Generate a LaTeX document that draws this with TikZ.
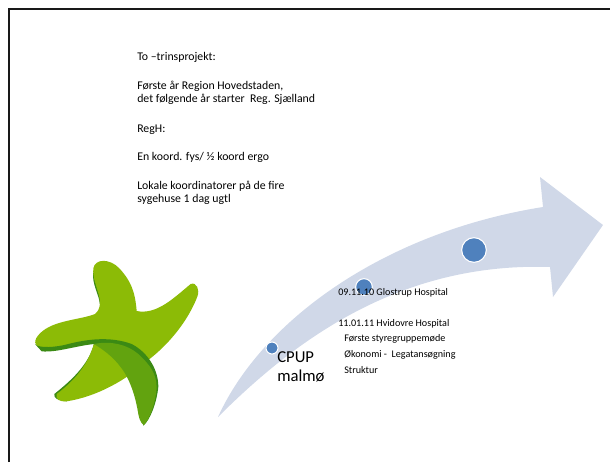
\documentclass[tikz,border=0pt]{standalone}
\usepackage{fontspec}
\setmainfont{Carlito}
\definecolor{arrowfill}{HTML}{D0D8E8}
\definecolor{dotblue}{HTML}{4F81BD}
\definecolor{starlight}{HTML}{8CBB06}
\definecolor{stardark}{HTML}{62A30F}
\definecolor{staredge}{HTML}{3B8A14}

\begin{document}
\begin{tikzpicture}[x=0.75pt,y=-0.75pt]

    \tikzset{
      NoteStyle/.style = { anchor = base west, inner sep = 0pt, font = \fontsize{8.85}{10}\selectfont },
      StepStyle/.style = { anchor = base west, inner sep = 0pt, font = \fontsize{7.6}{9}\selectfont },
      BigStyle/.style = { anchor = base west, inner sep = 0pt, font = \fontsize{12.5}{15}\selectfont },
      DotStyle/.style = { circle, draw = white, fill = dotblue, line width = 0.8pt, inner sep = 0pt } }
    \useasboundingbox (0,0) rectangle (610,462);

    \draw[line width = 1.9pt, black!90] (9,462) -- (9,9) -- (610,9);

    \fill[arrowfill] (218,417) .. controls (262,320) and (385,232) .. (543,207)
      -- (540,177) -- (603,225) -- (553,297) -- (550,267)
      .. controls (400,262) and (295,340) .. (218,417) -- cycle;

    \node[DotStyle, minimum size = 9pt] (small) at (272,348) {};
    \node[DotStyle, minimum size = 12.5pt] (middle) at (364,287) {};
    \node[DotStyle, minimum size = 18.5pt] (large) at (474,250) {};

    \begin{scope}[shift = {(0,240)}, x = 0.25pt, y = -0.25pt]
      \fill[staredge] (280,95) .. controls (274,130) and (298,165) .. (299,190)
        -- (350,300) -- (282,312)
        .. controls (265,375) and (215,420) .. (163,462)
        .. controls (160,475) and (175,482) .. (200,484)
        -- (350,300) -- cycle;
      \fill[starlight] (280,85) .. controls (285,55) and (330,55) .. (358,85)
        .. controls (390,120) and (405,150) .. (410,213)
        .. controls (470,225) and (520,175) .. (572,132)
        .. controls (590,125) and (600,150) .. (592,170)
        .. controls (565,240) and (510,310) .. (445,360)
        .. controls (380,420) and (290,470) .. (200,484)
        .. controls (180,486) and (165,478) .. (170,462)
        .. controls (220,425) and (265,375) .. (282,310)
        .. controls (225,315) and (170,332) .. (125,325)
        .. controls (100,318) and (100,300) .. (120,280)
        .. controls (160,240) and (240,240) .. (285,222)
        .. controls (305,205) and (302,180) .. (292,150)
        .. controls (285,125) and (278,110) .. (280,85) -- cycle;
      \fill[staredge] (105,312) .. controls (115,326) and (170,322) .. (205,312)
        .. controls (260,298) and (330,288) .. (395,312)
        .. controls (440,335) and (475,385) .. (475,440)
        .. controls (470,490) and (450,540) .. (430,557)
        -- (400,440) -- (350,340) -- (282,312)
        .. controls (225,318) and (170,338) .. (125,334) -- cycle;
      \fill[stardark] (282,312) .. controls (330,302) and (380,312) .. (415,342)
        .. controls (450,375) and (470,400) .. (470,445)
        .. controls (466,490) and (450,535) .. (432,555)
        .. controls (420,550) and (416,530) .. (412,505)
        .. controls (405,470) and (395,435) .. (375,400)
        .. controls (350,360) and (320,335) .. (282,312) -- cycle;
    \end{scope}

    \node[NoteStyle] (title) at (137,60) {To –trinsprojekt:};
    \node[NoteStyle] (first) at (137,89) {Første år Region Hovedstaden,};
    \node[NoteStyle] (next) at (137,102.5) {det følgende år starter\ \ Reg. Sjælland};
    \node[NoteStyle] (regh) at (137,132) {RegH:};
    \node[NoteStyle] (koord) at (137,160.5) {En koord. fys/ ½ koord ergo};
    \node[NoteStyle] (lokale) at (137,189) {Lokale koordinatorer på de fire};
    \node[NoteStyle] (sygehuse) at (137,202.5) {sygehuse 1 dag ugtl};

    \node[BigStyle] (cpup) at (277,362) {CPUP};
    \node[BigStyle] (malmo) at (277,381) {malmø};

    \node[StepStyle] (glostrup) at (338,295) {09.11.10 Glostrup Hospital};
    \node[StepStyle] (hvidovre) at (338,326) {11.01.11 Hvidovre Hospital};
    \node[StepStyle] (styre) at (344,341.5) {Første styregruppemøde};
    \node[StepStyle] (okonomi) at (344,357) {Økonomi -\ \ Legatansøgning};
    \node[StepStyle] (struktur) at (344,373) {Struktur};
    \end{tikzpicture}
\end{document}
